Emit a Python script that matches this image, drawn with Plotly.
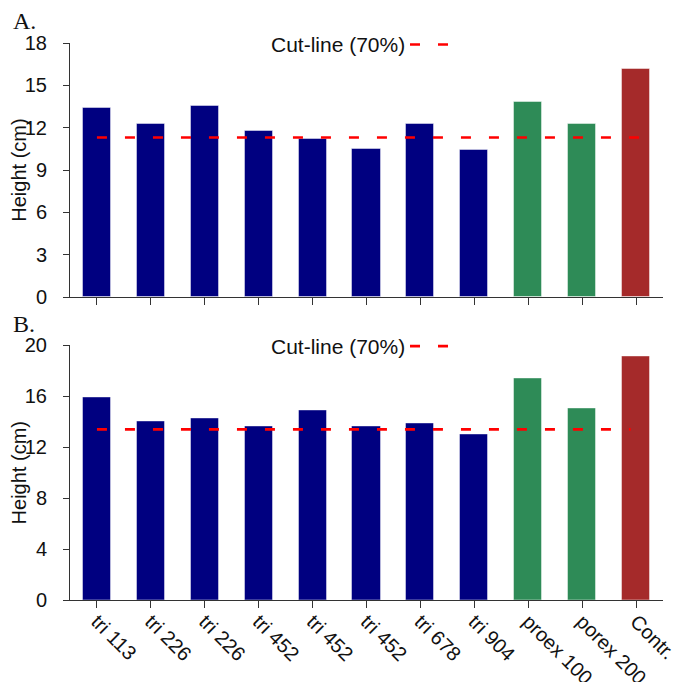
import plotly.graph_objects as go

# ---- data ----
labels = ["tri 113", "tri 226", "tri 226", "tri 452", "tri 452", "tri 452",
          "tri 678", "tri 904", "proex 100", "porex 200", "Contr."]
heights_a = [13.4, 12.25, 13.55, 11.8, 11.2, 10.5, 12.25, 10.4, 13.8, 12.25, 16.15]
heights_b = [15.9, 14.05, 14.3, 13.6, 14.9, 13.6, 13.85, 13.0, 17.4, 15.05, 19.15]
groups = ["tri"] * 8 + ["proex"] * 2 + ["contr"]
group_colors = {"tri": "#000080", "proex": "#2E8B57", "contr": "#A52A2A"}
cut_fraction = 0.70
cut_label = "Cut-line (70%)"
panel_titles = ["A.", "B."]
yticks_a = [0, 3, 6, 9, 12, 15, 18]
yticks_b = [0, 4, 8, 12, 16, 20]
cut_x_end = [10.22, 9.9]

FONT = "Arial, Liberation Sans, sans-serif"
OFF = 8  # default page body margin
W, H = 689 - OFF, 682 - OFF
# plot area in page pixels
PX_L, PX_R, PX_T, PX_B = 70, 663, 43, 599.7
ML, MR, MT, MB = PX_L - OFF, W - (PX_R - OFF), PX_T - OFF, H - (PX_B - OFF)

x = list(range(len(labels)))
colors = [group_colors[g] for g in groups]

fig = go.Figure()

for i, (vals, xa, ya) in enumerate([(heights_a, "x", "y"), (heights_b, "x2", "y2")]):
    fig.add_trace(go.Bar(
        x=x, y=vals, xaxis=xa, yaxis=ya, width=0.52,
        marker=dict(color=colors, line=dict(color="rgba(255,255,255,0.45)", width=1)),
        showlegend=False, hoverinfo="y"))
    cut = cut_fraction * vals[-1]
    fig.add_trace(go.Scatter(
        x=[0, cut_x_end[i]], y=[cut, cut], xaxis=xa, yaxis=ya, mode="lines",
        line=dict(color="#FF0000", width=2.6, dash="10px,18px"),
        name=cut_label, showlegend=False))

pw = PX_R - PX_L
ph = PX_B - PX_T
def px_x(p):
    return (p - PX_L) / pw
def px_y(p):
    return (PX_B - p) / ph

top_dom = [px_y(297), 1.0]
bot_dom = [0.0, px_y(345.3)]

TXT = 20
axis_common = dict(showline=True, linecolor="#333", linewidth=1, ticks="outside",
                   tickcolor="#333", showgrid=False, zeroline=False, automargin=False,
                   tickfont=dict(family=FONT, size=TXT, color="#111"))
ytitle = dict(text="Height (cm)", font=dict(family=FONT, size=TXT, color="#111"), standoff=0)

fig.update_layout(
    width=W, height=H, margin=dict(l=ML, r=MR, t=MT, b=MB),
    paper_bgcolor="white", plot_bgcolor="white", bargap=0,
    font=dict(family=FONT, color="#111"),
    xaxis=dict(domain=[0, 1], anchor="y", range=[-0.5, 10.5], tickvals=x,
               showticklabels=False, ticklen=7, **axis_common),
    yaxis=dict(domain=top_dom, anchor="x", range=[0, 18], tickvals=yticks_a,
               ticklen=6, ticklabelstandoff=12, title=ytitle, **axis_common),
    xaxis2=dict(domain=[0, 1], anchor="y2", range=[-0.5, 10.5], tickvals=x,
                ticktext=labels, tickangle=45, ticklen=7, ticklabelstandoff=-6,
                **axis_common),
    yaxis2=dict(domain=bot_dom, anchor="x2", range=[0, 20], tickvals=yticks_b,
                ticklen=6, ticklabelstandoff=12, title=ytitle, **axis_common),
)

annotations = []
shapes = []
for ycen, ttl_y, ttl in [(44.5, 21, panel_titles[0]), (346, 324, panel_titles[1])]:
    annotations.append(dict(xref="paper", yref="paper", x=px_x(269), y=px_y(ycen),
                            xanchor="left", yanchor="middle", showarrow=False,
                            text=cut_label, font=dict(family=FONT, size=21, color="#111")))
    shapes.append(dict(type="line", xref="paper", yref="paper",
                       x0=px_x(410), x1=px_x(448), y0=px_y(ycen), y1=px_y(ycen),
                       line=dict(color="#FF0000", width=2.6, dash="10px,18px")))
    annotations.append(dict(xref="paper", yref="paper", x=px_x(11), y=px_y(ttl_y),
                            xanchor="left", yanchor="middle", showarrow=False,
                            text=ttl, font=dict(family="Liberation Serif, Times New Roman, serif",
                                                size=24, color="#111")))
fig.update_layout(annotations=annotations, shapes=shapes)

fig.write_html("out.html")
